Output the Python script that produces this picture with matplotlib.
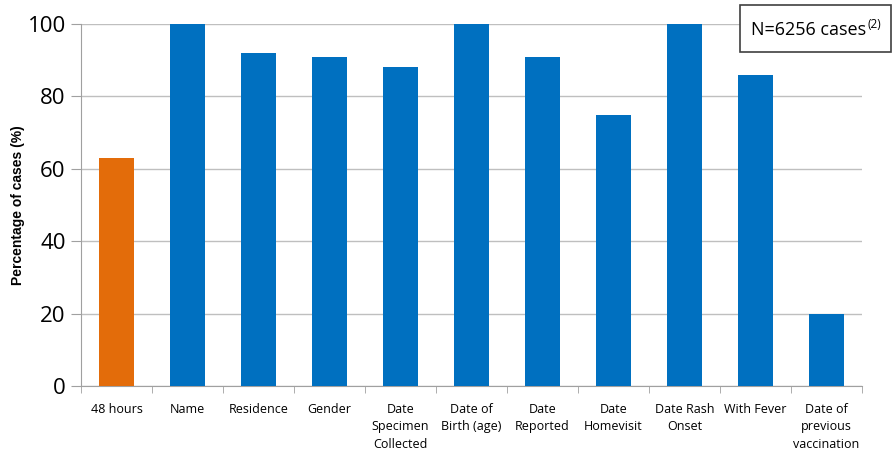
import numpy as np
import matplotlib.pyplot as plt
from matplotlib.patches import Rectangle

categories = ['48 hours', 'Name', 'Residence', 'Gender', 'Date\nSpecimen\nCollected',
              'Date of\nBirth (age)', 'Date\nReported', 'Date\nHomevisit',
              'Date Rash\nOnset', 'With Fever', 'Date of\nprevious\nvaccination']
values = [63, 100, 92, 91, 88, 100, 91, 75, 100, 86, 20]
colors = ['#E36C0A'] + ['#0070C0'] * 10

fig = plt.figure(figsize=(8.93, 4.49), dpi=100)
ax = fig.add_axes([0.0907, 0.1403, 0.8746, 0.8062])

x = np.arange(len(categories))
ax.bar(x, values, width=0.5, color=colors, zorder=3)

ax.set_xlim(-0.5, len(categories) - 0.5)
ax.set_ylim(0, 100)
ax.set_yticks(range(0, 101, 20))
ax.tick_params(axis='y', labelsize=16, length=7, color='#A0A0A0', pad=4)
for lab in ax.get_yticklabels():
    lab.set_fontfamily('Open Sans')
ax.yaxis.grid(True, color='#BFBFBF', linewidth=1, zorder=0)

ax.set_xticks(x)
ax.set_xticklabels(categories, fontsize=9, fontfamily='Open Sans', linespacing=1.45)
ax.set_xticks(np.arange(-0.5, len(categories)), minor=True)
ax.tick_params(axis='x', which='major', length=0, pad=12)
ax.tick_params(axis='x', which='minor', length=5, color='#A0A0A0')

ax.set_ylabel('Percentage of cases (%)', fontsize=10, fontweight='bold',
              fontfamily='Liberation Sans', labelpad=2)

for s in ['top', 'right']:
    ax.spines[s].set_visible(False)
for s in ['left', 'bottom']:
    ax.spines[s].set_color('#A0A0A0')

# annotation box
W, H = 893, 449
fig.patches.append(Rectangle((740 / W, 1 - 52 / H), 151 / W, 47 / H,
                             transform=fig.transFigure, facecolor='white',
                             edgecolor='#404040', linewidth=1.2, zorder=5))
t = fig.text(751 / W, 1 - 30 / H, 'N=6256 cases', fontsize=13, fontfamily='Open Sans',
             va='center', ha='left', zorder=6)
fig.canvas.draw()
bb = t.get_window_extent()
fig.text(bb.x1 / W + 0.001, 1 - 24 / H, '(2)', fontsize=8.5, fontfamily='Open Sans',
         va='center', ha='left', zorder=6)

fig.savefig('out.png', dpi=100)
